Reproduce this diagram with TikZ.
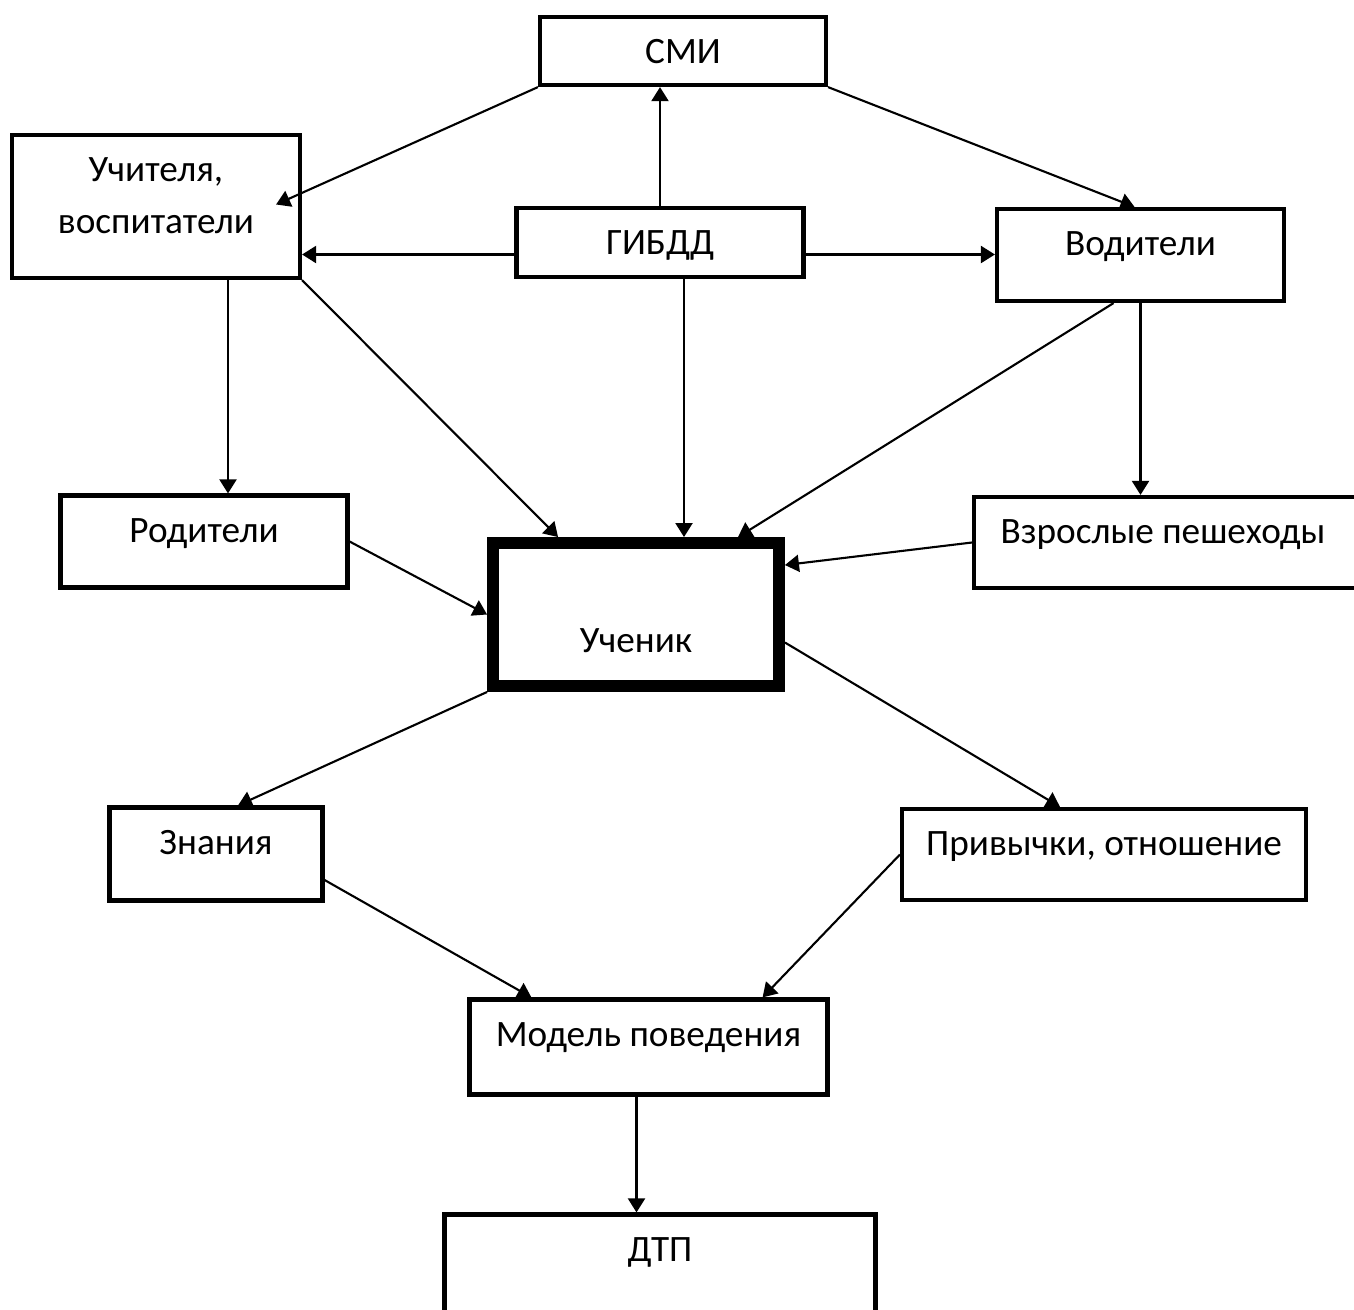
\documentclass[tikz,border=0pt]{standalone}
\usepackage{fontspec}
\setmainfont{Carlito}
\usetikzlibrary{arrows.meta,calc}

\begin{document}
\begin{tikzpicture}[x=0.02cm, y=-0.02cm,
                    box/.style 2 args={
                    draw,
                    line width=2.4pt,
                    inner sep=0pt,
                    minimum width=#1,
                    minimum height=#2,
                    },
                    txt/.style={
                    font=\fontsize{21.2}{29.6}\selectfont,
                    inner sep=0pt,
                    anchor=base,
                    align=center,
                    },
                    link/.style={
                    line width=1.2pt,
                    -{Triangle[length=0.28cm, width=0.34cm]},
                    } ]

\useasboundingbox (0,0) rectangle (1354,1309);

% boxes
\draw
(683,51) node[box={5.72cm}{1.36cm}] (smi) {}
(156,206.5) node[box={5.76cm}{2.86cm}] (teach) {}
(660,242.5) node[box={5.74cm}{1.38cm}] (gibdd) {}
(1140.5,255) node[box={5.74cm}{1.84cm}] (drivers) {}
(204,541.5) node[box={5.74cm}{1.84cm}] (parents) {}
(636,614.5) node[box={5.72cm}{2.86cm}, line width=6.8pt] (pupil) {}
(1172,542.5) node[box={7.92cm}{1.82cm}] (adults) {}
(216,854) node[box={4.26cm}{1.86cm}] (knowledge) {}
(1104,854.5) node[box={8.08cm}{1.82cm}] (habits) {}
(648.5,1047) node[box={7.16cm}{1.90cm}] (model) {}
(660,1267) node[box={8.62cm}{2.10cm}] (dtp) {}
;

% texts
\draw
(smi.north) ++(0,49) node[txt] (smi-t) {СМИ}
(teach.north) ++(0,101) node[txt] (teach-t) {Учителя,\\воспитатели}
(gibdd.north) ++(0,49) node[txt] (gibdd-t) {ГИБДД}
(drivers.north) ++(0,49) node[txt] (drivers-t) {Водители}
(parents.north) ++(0,49) node[txt] (parents-t) {Родители}
(pupil.north) ++(0,115) node[txt] (pupil-t) {Ученик}
(adults.north) ++(-9,49) node[txt] (adults-t) {Взрослые пешеходы}
(knowledge.north) ++(0,49) node[txt] (knowledge-t) {Знания}
(habits.north) ++(0,49) node[txt] (habits-t) {Привычки, отношение}
(model.north) ++(0,49) node[txt] (model-t) {Модель поведения}
(dtp.north) ++(0,49) node[txt] (dtp-t) {ДТП}
;

\path
($(gibdd.west)+(0,12)$) coordinate (g-w)
($(gibdd.east)+(0,12)$) coordinate (g-e)
($(gibdd.south)+(24,0)$) coordinate (g-s)
($(teach.south)+(72,0)$) coordinate (t-s)
($(model.south)+(-12,0)$) coordinate (m-s)
;

% connectors
\draw[link] (smi.south west) -- ($(teach.east)+(-26,-2)$);
\draw[link] (smi.south east) -- ($(drivers.north)+(-6,0)$);
\draw[link] (gibdd.north) -- (gibdd.north |- smi.south);
\draw[link] (g-w) -- (g-w -| teach.east);
\draw[link] (g-e) -- (g-e -| drivers.west);
\draw[link] (g-s) -- (g-s |- pupil.north);
\draw[link] (t-s) -- (t-s |- parents.north);
\draw[link] (teach.south east) -- ($(pupil.north west)+(71,0)$);
\draw[link] ($(drivers.south)+(-27,0)$) -- ($(pupil.north)+(102,0)$);
\draw[link] (drivers.south) -- (drivers.south |- adults.north);
\draw[link] (adults.west) -- ($(pupil.north east)+(0,28)$);
\draw[link] (parents.east) -- (pupil.west);
\draw[link] (pupil.south west) -- ($(knowledge.north)+(22,0)$);
\draw[link] ($(pupil.east)+(0,28)$) -- ($(habits.north)+(-44,0)$);
\draw[link] ($(knowledge.east)+(0,26)$) -- ($(model.north west)+(64,0)$);
\draw[link] (habits.west) -- ($(model.north east)+(-67,0)$);
\draw[link] (m-s) -- (m-s |- dtp.north);

\end{tikzpicture}
\end{document}
